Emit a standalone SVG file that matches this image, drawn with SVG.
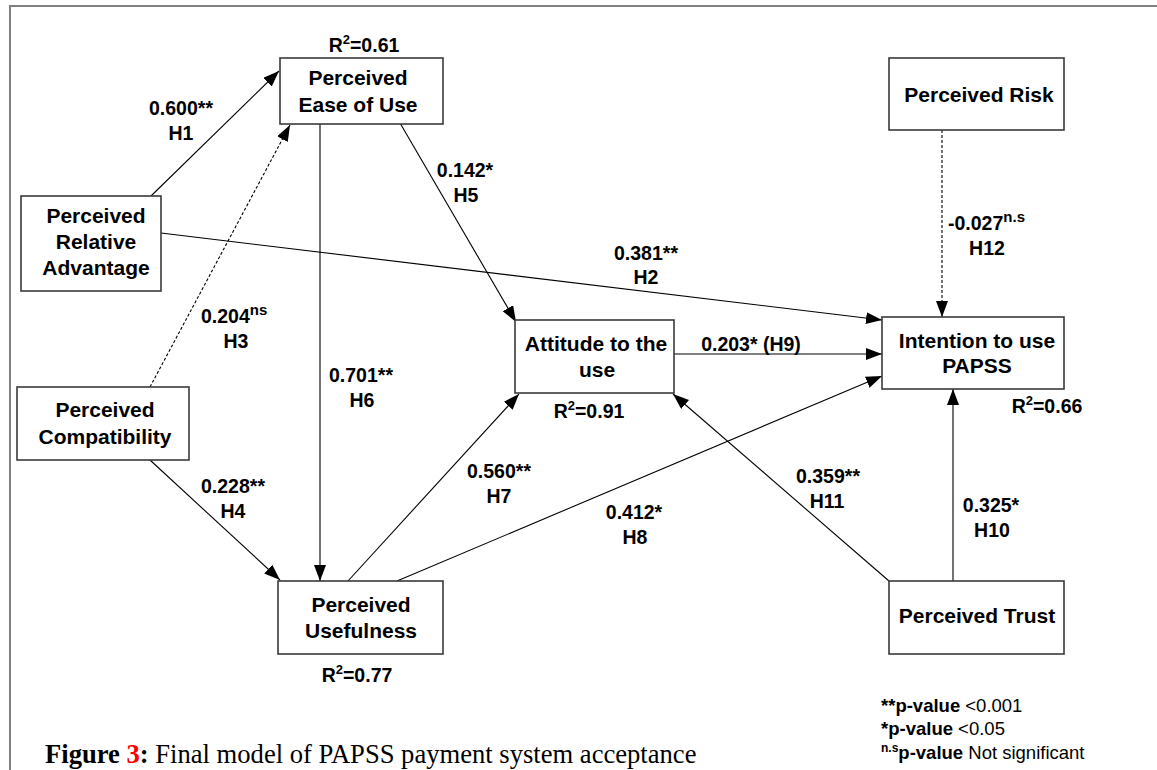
<svg xmlns="http://www.w3.org/2000/svg" width="1157" height="770" viewBox="0 0 1157 770">
<defs>
<marker id="ah" markerUnits="userSpaceOnUse" markerWidth="16" markerHeight="12" refX="16" refY="6" orient="auto">
<path d="M0,0 L16,6 L0,12 z" fill="#000"/>
</marker>
<style>
.box{fill:#fff;stroke:#3a3a3a;stroke-width:1.6}
.nt{font-family:"Liberation Sans",Arial,sans-serif;font-weight:bold;font-size:21px;fill:#000;text-anchor:middle}
.el{font-family:"Liberation Sans",Arial,sans-serif;font-weight:bold;font-size:19.5px;fill:#000;text-anchor:middle}
.es{text-anchor:start}
.ln{fill:none;stroke:#000;stroke-width:1.1;marker-end:url(#ah)}
.dash{stroke-dasharray:3,2}
.lg{font-family:"Liberation Sans",Arial,sans-serif;font-size:18.5px;fill:#000}
.cap{font-family:"Liberation Serif","Times New Roman",serif;font-size:26.6px;fill:#000}
</style>
</defs>
<rect width="1157" height="770" fill="#fff"/>
<path d="M10,770 L10,6 L1157,6" fill="none" stroke="#808080" stroke-width="2"/>

<g id="connectors">
<line class="ln" x1="151" y1="196" x2="279" y2="71"/>
<line class="ln dash" x1="150" y1="387" x2="290" y2="125"/>
<line class="ln" x1="320" y1="124" x2="320" y2="581"/>
<line class="ln" x1="400" y1="123" x2="516" y2="322"/>
<line class="ln" x1="161" y1="233" x2="882" y2="320"/>
<line class="ln" x1="674" y1="354" x2="882" y2="354"/>
<line class="ln" x1="397" y1="581" x2="882" y2="376"/>
<line class="ln" x1="348" y1="581" x2="519" y2="394"/>
<line class="ln" x1="150" y1="460" x2="280" y2="580"/>
<line class="ln" x1="889" y1="581" x2="673" y2="394"/>
<line class="ln" x1="953" y1="581" x2="953" y2="389"/>
<line class="ln dash" x1="942" y1="130" x2="942" y2="317"/>
</g>

<g id="edge-labels">
<text class="el" x="181" y="115">0.600**</text>
<text class="el" x="181" y="140">H1</text>
<text class="el" x="465" y="177">0.142*</text>
<text class="el" x="466" y="202">H5</text>
<text class="el es" x="201" y="323">0.204<tspan dy="-8" font-size="15">ns</tspan></text>
<text class="el" x="236" y="348">H3</text>
<text class="el" x="361" y="382">0.701**</text>
<text class="el" x="362" y="407">H6</text>
<text class="el" x="233" y="493">0.228**</text>
<text class="el" x="233" y="518">H4</text>
<text class="el" x="646" y="260">0.381**</text>
<text class="el" x="646" y="284">H2</text>
<text class="el" x="751" y="351">0.203* (H9)</text>
<text class="el es" x="948" y="230">-0.027<tspan dy="-8" font-size="15">n.s</tspan></text>
<text class="el" x="987" y="255">H12</text>
<text class="el" x="499" y="478">0.560**</text>
<text class="el" x="499" y="503">H7</text>
<text class="el" x="634" y="519">0.412*</text>
<text class="el" x="635" y="544">H8</text>
<text class="el" x="828" y="483">0.359**</text>
<text class="el" x="827" y="508">H11</text>
<text class="el" x="991" y="512">0.325*</text>
<text class="el" x="992" y="537">H10</text>
<text class="el" x="364" y="52">R<tspan dy="-8" font-size="13">2</tspan><tspan dy="8">=0.61</tspan></text>
<text class="el" x="589" y="418">R<tspan dy="-8" font-size="13">2</tspan><tspan dy="8">=0.91</tspan></text>
<text class="el" x="357" y="682">R<tspan dy="-8" font-size="13">2</tspan><tspan dy="8">=0.77</tspan></text>
<text class="el" x="1047" y="413">R<tspan dy="-8" font-size="13">2</tspan><tspan dy="8">=0.66</tspan></text>
</g>

<g id="node-ease">
<rect class="box" x="280" y="58" width="163" height="66"/>
<text class="nt" x="358" y="85">Perceived</text>
<text class="nt" x="358" y="112">Ease of Use</text>
</g>
<g id="node-relative">
<rect class="box" x="21" y="196" width="140" height="95"/>
<text class="nt" x="96" y="223">Perceived</text>
<text class="nt" x="96" y="249">Relative</text>
<text class="nt" x="96" y="275">Advantage</text>
</g>
<g id="node-compat">
<rect class="box" x="17" y="387" width="172" height="73"/>
<text class="nt" x="105" y="417">Perceived</text>
<text class="nt" x="105" y="444">Compatibility</text>
</g>
<g id="node-useful">
<rect class="box" x="278" y="581" width="165" height="73"/>
<text class="nt" x="361" y="612">Perceived</text>
<text class="nt" x="361" y="638">Usefulness</text>
</g>
<g id="node-attitude">
<rect class="box" x="515" y="320" width="159" height="73"/>
<text class="nt" x="596" y="351">Attitude to the</text>
<text class="nt" x="597" y="377">use</text>
</g>
<g id="node-intention">
<rect class="box" x="882" y="317" width="182" height="72"/>
<text class="nt" x="977" y="348">Intention to use</text>
<text class="nt" x="977" y="373">PAPSS</text>
</g>
<g id="node-risk">
<rect class="box" x="889" y="58" width="175" height="72"/>
<text class="nt" x="979" y="102">Perceived Risk</text>
</g>
<g id="node-trust">
<rect class="box" x="889" y="581" width="175" height="73"/>
<text class="nt" x="977" y="623">Perceived Trust</text>
</g>

<g id="legend">
<text class="lg" x="881" y="712"><tspan font-weight="bold">**p-value</tspan> &lt;0.001</text>
<text class="lg" x="881" y="735"><tspan font-weight="bold">*p-value</tspan> &lt;0.05</text>
<text class="lg" x="881" y="759"><tspan font-weight="bold" font-size="12" dy="-7">n.s</tspan><tspan font-weight="bold" dy="7">p-value</tspan> Not significant</text>
</g>

<g id="caption">
<text class="cap" x="45" y="763"><tspan font-weight="bold">Figure </tspan><tspan font-weight="bold" fill="#ff0000">3</tspan><tspan font-weight="bold">:</tspan> Final model of PAPSS payment system acceptance</text>
</g>
</svg>
